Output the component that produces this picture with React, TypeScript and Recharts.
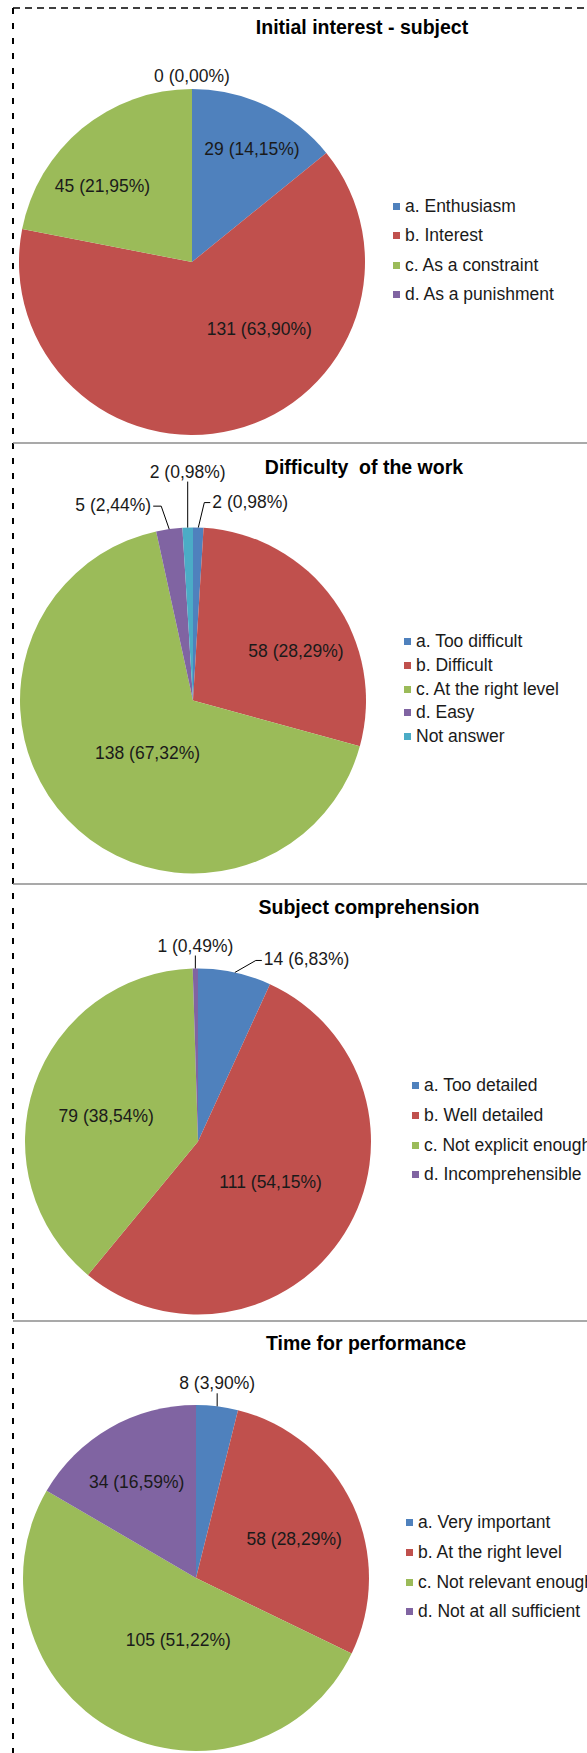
import React from "react";
import { PieChart, Pie, Cell, Legend } from "recharts";

const FONT = '"Liberation Sans", Arial, sans-serif';
const COLORS = ["#4F81BD", "#C0504D", "#9BBB59", "#8064A2", "#4BACC6"];

const interestNames = ["a. Enthusiasm", "b. Interest", "c. As a constraint", "d. As a punishment"];
const interestValues = [29, 131, 45, 0];

const difficultyNames = ["a. Too difficult", "b. Difficult", "c. At the right level", "d. Easy", "Not answer"];
const difficultyValues = [2, 58, 138, 5, 2];

const comprehensionNames = ["a. Too detailed", "b. Well detailed", "c. Not explicit enough", "d. Incomprehensible"];
const comprehensionValues = [14, 111, 79, 1];

const timeNames = ["a. Very important", "b. At the right level", "c. Not relevant enough", "d. Not at all sufficient"];
const timeValues = [8, 58, 105, 34];

type Callout = { dx: number; dy: number; anchor: "start" | "middle" | "end"; line?: boolean };
// inside label placement: [clockwise shift from mid angle in degrees, fraction of radius]
type Inside = Record<number, [number, number]>;

// layout of each panel (not data)
const panels = [
  {
    title: "Initial interest - subject", names: interestNames, values: interestValues,
    top: 0, height: 443, cx: 192, cy: 262, titleX: 362, titleY: 27,
    legendX: 393, legendY: 192, legendGap: 29.3,
    callouts: { 3: { dx: 0, dy: -3, anchor: "middle", line: false } } as Record<number, Callout>,
    inside: { 0: [2.5, 0.74], 1: [-31, 0.55], 2: [-10, 0.68] } as Inside,
  },
  {
    title: "Difficulty  of the work", names: difficultyNames, values: difficultyValues,
    top: 443, height: 441, cx: 193, cy: 257.5, titleX: 364, titleY: 24,
    legendX: 404, legendY: 187, legendGap: 23.7,
    callouts: {
      0: { dx: 6, dy: -25, anchor: "start" },
      3: { dx: -8, dy: -23, anchor: "end" },
      4: { dx: 0, dy: -46, anchor: "middle" },
    } as Record<number, Callout>,
    inside: { 1: [10, 0.66], 2: [-5.5, 0.4] } as Inside,
  },
  {
    title: "Subject comprehension", names: comprehensionNames, values: comprehensionValues,
    top: 884, height: 437, cx: 198, cy: 257.5, titleX: 369, titleY: 23,
    legendX: 412, legendY: 187, legendGap: 29.7,
    callouts: {
      0: { dx: 21, dy: -12, anchor: "start" },
      3: { dx: 0, dy: -13, anchor: "middle" },
    } as Record<number, Callout>,
    inside: { 1: [-3, 0.48], 2: [-3.5, 0.55] } as Inside,
  },
  {
    title: "Time for performance", names: timeNames, values: timeValues,
    top: 1321, height: 432, cx: 196, cy: 257, titleX: 366, titleY: 22,
    legendX: 406, legendY: 187, legendGap: 29.7,
    callouts: { 0: { dx: 0, dy: -13, anchor: "middle" } } as Record<number, Callout>,
    inside: { 1: [3.5, 0.61], 2: [-12, 0.37], 3: [-2, 0.65] } as Inside,
  },
];

const RAD = Math.PI / 180;

function makeLabel(callouts: Record<number, Callout>, inside: Inside) {
  return (props: any) => {
    const { cx, cy, midAngle, outerRadius, percent, value, index } = props;
    const text = `${value} (${(percent * 100).toFixed(2).replace(".", ",")}%)`;
    const style = { fontFamily: FONT, fontSize: 17.5, fill: "#1a1a1a" };
    const c = callouts[index];
    if (c) {
      const cos = Math.cos(-midAngle * RAD);
      const sin = Math.sin(-midAngle * RAD);
      const ex = cx + outerRadius * cos;
      const ey = cy + outerRadius * sin;
      const lx = ex + c.dx;
      const ly = ey + c.dy;
      let pts = `${ex},${ey} ${lx},${ly}`;
      let tx = lx;
      let ty = ly - 4;
      if (c.anchor === "start") {
        pts += ` ${lx + 6},${ly}`;
        tx = lx + 8;
        ty = ly + 5;
      } else if (c.anchor === "end") {
        pts += ` ${lx - 8},${ly}`;
        tx = lx - 10;
        ty = ly + 5;
      }
      return (
        <g key={`l-${index}`}>
          {c.line !== false && <polyline points={pts} fill="none" stroke="#000" strokeWidth={1} />}
          <text x={tx} y={ty} textAnchor={c.anchor} style={style}>{text}</text>
        </g>
      );
    }
    const [shift, k] = inside[index] || [0, Math.max(0.4, 0.72 - 0.45 * percent)];
    const a = (midAngle - shift) * RAD;
    const x = cx + outerRadius * k * Math.cos(-a);
    const y = cy + outerRadius * k * Math.sin(-a);
    return (
      <text key={`l-${index}`} x={x} y={y} textAnchor="middle" dominantBaseline="central" style={style}>
        {text}
      </text>
    );
  };
}

function legendContent(gap: number, order: string[]) {
  return ({ payload }: any) => {
    const items = [...(payload || [])].sort((a: any, b: any) => order.indexOf(a.value) - order.indexOf(b.value));
    return (
      <div style={{ fontFamily: FONT, fontSize: 17.5, color: "#1a1a1a", whiteSpace: "nowrap" }}>
        {items.map((p: any) => (
          <div key={p.value} style={{ display: "flex", alignItems: "center", height: gap }}>
            <span style={{ width: 7, height: 7, background: p.color, marginRight: 5, flex: "none" }} />
            <span>{p.value}</span>
          </div>
        ))}
      </div>
    );
  };
}

export default function App() {
  return (
    <div style={{ position: "absolute", left: 0, top: 0, width: 587, height: 1753, overflow: "hidden", background: "#fff", fontFamily: FONT }}>
      {panels.map((p) => {
        const data = p.names.map((name, i) => ({ name, value: p.values[i], fill: COLORS[i] }));
        return (
          <div key={p.title} style={{ position: "absolute", left: 0, top: p.top, width: 587, height: p.height, overflow: "hidden" }}>
            <PieChart width={587} height={p.height} margin={{ top: 0, right: 0, bottom: 0, left: 0 }}>
              <Pie
                data={data}
                dataKey="value"
                nameKey="name"
                cx={p.cx}
                cy={p.cy}
                outerRadius={173}
                startAngle={90}
                endAngle={-270}
                stroke="none"
                isAnimationActive={false}
                labelLine={false}
                label={makeLabel(p.callouts, p.inside)}
              >
                {data.map((d, i) => (
                  <Cell key={d.name} fill={COLORS[i]} />
                ))}
              </Pie>
              <Legend
                layout="vertical"
                align="right"
                verticalAlign="top"
                content={legendContent(p.legendGap, p.names)}
                wrapperStyle={{ left: p.legendX, right: "auto", top: p.legendY, width: "auto" }}
              />
            </PieChart>
          </div>
        );
      })}
      <svg width={587} height={1753} style={{ position: "absolute", left: 0, top: 0, pointerEvents: "none" }}>
        <line x1={13} y1={8} x2={587} y2={8} stroke="#000" strokeWidth={1.5} strokeDasharray="7 5" />
        <line x1={13} y1={8} x2={13} y2={1753} stroke="#000" strokeWidth={2} strokeDasharray="6 9" />
        {[443, 884, 1321].map((y) => (
          <line key={y} x1={13} y1={y} x2={587} y2={y} stroke="#8c8c8c" strokeWidth={1.5} />
        ))}
        {panels.map((p) => (
          <text
            key={p.title}
            x={p.titleX}
            y={p.top + p.titleY}
            textAnchor="middle"
            dominantBaseline="central"
            style={{ fontFamily: FONT, fontSize: 19.5, fontWeight: "bold", fill: "#000", whiteSpace: "pre" }}
          >
            {p.title}
          </text>
        ))}
      </svg>
    </div>
  );
}
